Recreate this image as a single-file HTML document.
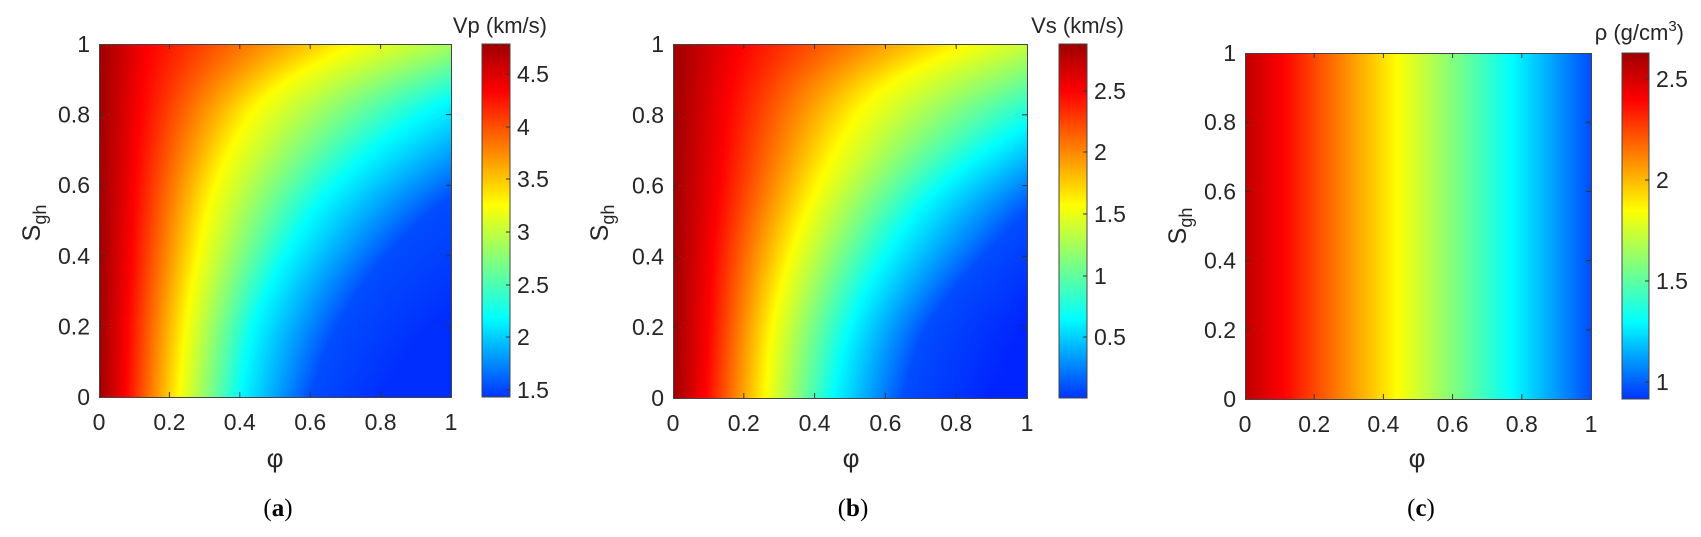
<!DOCTYPE html>
<html><head><meta charset="utf-8"><style>
html,body{margin:0;padding:0;background:#fff;}
#w{position:relative;width:1701px;height:537px;overflow:hidden;}
canvas{position:absolute;}
svg{position:absolute;left:0;top:0;}
</style></head><body><div id="w">
<canvas id="ca" style="left:99px;top:44px;width:352px;height:353px" width="352" height="353"></canvas>
<canvas id="cb" style="left:673px;top:44px;width:354px;height:354px" width="354" height="354"></canvas>
<svg width="1701" height="537" font-family="Liberation Sans, Arial, sans-serif" font-size="23" fill="#262626">
<defs>
<linearGradient id="cbar" x1="0" y1="1" x2="0" y2="0">
<stop offset="0" stop-color="rgb(0,51,255)"/>
<stop offset="0.224" stop-color="rgb(0,255,255)"/>
<stop offset="0.545" stop-color="rgb(255,255,0)"/>
<stop offset="0.865" stop-color="rgb(255,0,0)"/>
<stop offset="1" stop-color="rgb(158,0,0)"/>
</linearGradient>
<linearGradient id="rho" x1="0" y1="0" x2="1" y2="0">
<stop offset="0" stop-color="rgb(190,0,0)"/>
<stop offset="0.11" stop-color="rgb(255,0,0)"/>
<stop offset="0.44" stop-color="rgb(255,255,0)"/>
<stop offset="0.77" stop-color="rgb(0,255,255)"/>
<stop offset="1" stop-color="rgb(0,77,255)"/>
</linearGradient>
</defs>
<rect x="1245" y="53" width="346" height="346" fill="url(#rho)"/>
<g stroke="#444" fill="none" stroke-width="1">
<rect x="99.5" y="44.5" width="352" height="353"/>
<rect x="673.5" y="44.5" width="354" height="354"/>
<rect x="1245.5" y="53.5" width="346" height="346"/>
</g>
<rect x="482" y="44" width="28" height="353" fill="url(#cbar)" stroke="#444"/>
<rect x="1059" y="44" width="28" height="354" fill="url(#cbar)" stroke="#444"/>
<rect x="1622" y="53" width="27" height="346" fill="url(#cbar)" stroke="#444"/>
<g id="ticks" stroke="#333" stroke-width="1"></g>
<g id="txt"></g>
<text x="547" y="33" text-anchor="end" font-size="22">Vp (km/s)</text>
<text x="1124" y="33" text-anchor="end" font-size="22">Vs (km/s)</text>
<text x="1684" y="40" text-anchor="end" font-size="22">ρ (g/cm<tspan dy="-9" font-size="15">3</tspan><tspan dy="9">)</tspan></text>
<text x="275" y="467" text-anchor="middle" font-size="26">φ</text>
<text x="851" y="467" text-anchor="middle" font-size="26">φ</text>
<text x="1417" y="467" text-anchor="middle" font-size="26">φ</text>
<text transform="translate(40,223) rotate(-90)" text-anchor="middle" font-size="25">S<tspan font-size="18" dy="6">gh</tspan></text>
<text transform="translate(608,223) rotate(-90)" text-anchor="middle" font-size="25">S<tspan font-size="18" dy="6">gh</tspan></text>
<text transform="translate(1186,226) rotate(-90)" text-anchor="middle" font-size="25">S<tspan font-size="18" dy="6">gh</tspan></text>
<g font-family="Liberation Serif, serif" font-size="25" fill="#000" text-anchor="middle">
<text x="278" y="516">(<tspan font-weight="bold">a</tspan>)</text>
<text x="853" y="516">(<tspan font-weight="bold">b</tspan>)</text>
<text x="1421" y="516">(<tspan font-weight="bold">c</tspan>)</text>
</g>
</svg>
</div>
<script>
var NS="http://www.w3.org/2000/svg";
var tk=document.getElementById('ticks'),tx=document.getElementById('txt');
function L(x1,y1,x2,y2){var l=document.createElementNS(NS,'line');l.setAttribute('x1',x1);l.setAttribute('y1',y1);l.setAttribute('x2',x2);l.setAttribute('y2',y2);tk.appendChild(l);}
function T(x,y,s,a){var t=document.createElementNS(NS,'text');t.setAttribute('x',x);t.setAttribute('y',y);t.setAttribute('text-anchor',a);t.textContent=s;tx.appendChild(t);}
function axes(x0,y0,w,h){
 var lab=['0','0.2','0.4','0.6','0.8','1'];
 for(var i=0;i<=5;i++){
  var x=x0+w*i/5,y=y0+h-h*i/5;
  if(i>0&&i<5){L(x,y0+h,x,y0+h-5);L(x,y0,x,y0+5);L(x0,y,x0+5,y);L(x0+w,y,x0+w-5,y);}
  T(x,y0+h+33,lab[i],'middle');
  T(x0-9,y+8,lab[i],'end');
 }
}
axes(99,44,352,353);axes(673,44,354,354);axes(1245,53,346,346);
function cb(r,ys,labs){for(var i=0;i<ys.length;i++){L(r-4,ys[i],r,ys[i]);T(r+7,ys[i]+8,labs[i],'start');}}
cb(510,[390,337,285,232,179,127,74],['1.5','2','2.5','3','3.5','4','4.5']);
cb(1087,[337,276,214,152,91],['0.5','1','1.5','2','2.5']);
cb(1649,[382,281,180,79],['1','1.5','2','2.5']);
function jet(u){function f(x){return Math.max(0,Math.min(1,x));}
 return [f(Math.min(4*u-1.5,-4*u+4.5)),f(Math.min(4*u-0.5,-4*u+3.5)),f(Math.min(4*u+0.5,-4*u+2.5))];}
function lin(xs,ys,x){if(x<=xs[0])return ys[0];for(var i=1;i<xs.length;i++){if(x<=xs[i]){return ys[i-1]+(ys[i]-ys[i-1])*(x-xs[i-1])/(xs[i]-xs[i-1]);}}var n=xs.length;return ys[n-1]+(ys[n-1]-ys[n-2])*(x-xs[n-1])/(xs[n-1]-xs[n-2]);}
var Ss=[0,0.2,0.4,0.6,0.8,0.9,1];
// Catmull-Rom over nonuniform S via uniform param on index with linear S map
function smooth(ys,S){
 // find segment
 var n=Ss.length,i=0;while(i<n-2&&S>Ss[i+1])i++;
 var t=(S-Ss[i])/(Ss[i+1]-Ss[i]);
 var p0=ys[Math.max(i-1,0)],p1=ys[i],p2=ys[i+1],p3=ys[Math.min(i+2,n-1)];
 var h0=Ss[i+1]-Ss[i];
 var m1=(i>0)?(p2-p0)/(Ss[i+1]-Ss[i-1])*h0:(p2-p1);
 var m2=(i+2<n)?(p3-p1)/(Ss[i+2]-Ss[i])*h0:(p2-p1);
 var t2=t*t,t3=t2*t;
 return (2*t3-3*t2+1)*p1+(t3-2*t2+t)*m1+(-2*t3+3*t2)*p2+(t3-t2)*m2;
}
function draw(id,cont,umin){
 var us=[0.97,0.875,0.625,0.375,0.2,umin];
 var c=document.getElementById(id),g=c.getContext('2d'),W=c.width,H=c.height,im=g.createImageData(W,H);
 for(var j=0;j<H;j++){var S=1-j/(H-1);
  var ps=[0];for(var k=0;k<cont.length;k++)ps.push(smooth(cont[k],S));
  for(var i=0;i<W;i++){var p=i/(W-1);var u;
   if(p>=ps[ps.length-1])u=umin;else{u=lin(ps,us,p);}
   u=Math.max(u,umin);var col=jet(u);var q=(j*W+i)*4;
   im.data[q]=col[0]*255;im.data[q+1]=col[1]*255;im.data[q+2]=col[2]*255;im.data[q+3]=255;}}
 g.putImageData(im,0,0);
}
draw('ca',[
 [0.075,0.08,0.09,0.1,0.115,0.125,0.14],
 [0.226,0.246,0.28,0.33,0.43,0.54,0.72],
 [0.40,0.44,0.53,0.67,0.92,1.15,1.5],
 [0.60,0.68,0.82,1.05,1.45,1.8,2.2],
 [0.80,0.95,1.2,1.5,2.0,2.5,3.0]],0.17);
draw('cb',[
 [0.09,0.1,0.11,0.13,0.15,0.165,0.19],
 [0.26,0.28,0.33,0.41,0.52,0.63,0.83],
 [0.45,0.50,0.60,0.76,1.05,1.3,1.6],
 [0.65,0.72,0.88,1.1,1.5,1.9,2.3],
 [0.9,1.0,1.2,1.5,2.0,2.5,3.0]],0.16);
</script>
</body></html>
